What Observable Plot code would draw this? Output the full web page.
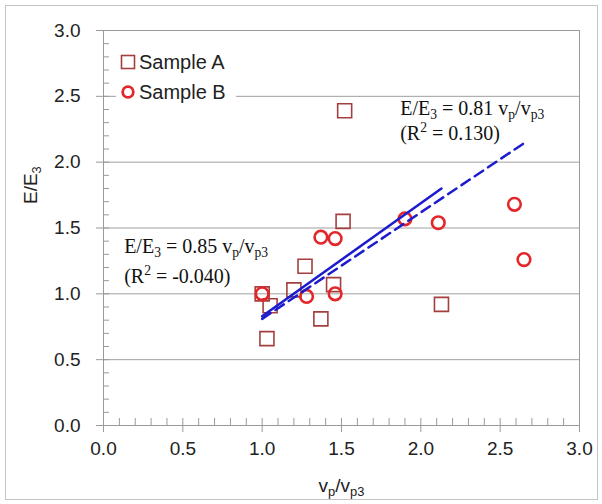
<!DOCTYPE html>
<html>
<head>
<meta charset="utf-8">
<script src="https://cdn.jsdelivr.net/npm/d3@7"></script>
<script src="https://cdn.jsdelivr.net/npm/@observablehq/plot@0.6"></script>
<style>
  html, body { margin: 0; padding: 0; background: #fff; }
  #wrap { position: relative; width: 602px; height: 504px; }
  #border { position: absolute; left: 5px; top: 5px; width: 591px; height: 493px; border: 1px solid #c4c4c4; pointer-events: none; }
  #legend { position: absolute; left: 116px; top: 47px; width: 120px; height: 58px; background: #fff;
            font-family: "Liberation Sans", Arial, sans-serif; font-size: 20px; color: #222; }
  .item { position: absolute; left: 4px; height: 22px; display: flex; align-items: center; }
  .item svg { margin-right: 3px; }
</style>
</head>
<body>
<div id="wrap">
  <div id="chart"></div>
  <div id="legend"></div>
  <div id="border"></div>
</div>
<script>
// ---- data ----
const seriesNames = ["Sample A", "Sample B"];

const sampleA_x = [1.00, 1.05, 1.20, 1.27, 1.45, 1.37, 1.03, 1.51, 1.52, 2.13];
const sampleA_y = [1.00, 0.91, 1.03, 1.21, 1.07, 0.81, 0.66, 1.55, 2.39, 0.92];

const sampleB_x = [1.00, 1.28, 1.46, 1.37, 1.46, 1.90, 2.11, 2.59, 2.65];
const sampleB_y = [1.00, 0.98, 1.00, 1.43, 1.42, 1.57, 1.54, 1.68, 1.26];

// fitted lines (endpoints)
const fitA_x = [1.00, 2.13];
const fitA_y = [0.83, 1.80];
const fitB_x = [1.00, 2.67];
const fitB_y = [0.81, 2.16];

// annotations (data coordinates of text baselines)
const annotText = ["E/E_{3} = 0.85 v_{p}/v_{p3}", "(R^{2} = -0.040)", "E/E_{3} = 0.81 v_{p}/v_{p3}", "(R^{2} = 0.130)"];
const annotX = [0.13, 0.13, 1.87, 1.87];
const annotY = [1.31, 1.08, 2.36, 2.17];

const majorTicks = [0, 0.5, 1.0, 1.5, 2.0, 2.5, 3.0];
const minorTicks = d3.range(0, 31).map(i => i / 10);

const xLabel = "v_{p}/v_{p3}";
const yLabel = "E/E_{3}";

// ---- styles ----
const colA = "#a3403f";
const colB = "#e3262a";
const lineCol = "#1c1ccf";
const axisCol = "#9a9a9a";
const serif = "'Liberation Serif', 'Times New Roman', serif";

const plot = Plot.plot({
  width: 602,
  height: 504,
  marginLeft: 103,
  marginRight: 23,
  marginTop: 30,
  marginBottom: 79,
  x: { domain: [0, 3], label: null },
  y: { domain: [0, 3], label: null },
  style: { fontFamily: "'Liberation Sans', Arial, sans-serif", fontSize: "19px", color: "#222", background: "#fff" },
  marks: [
    Plot.gridY(majorTicks, { stroke: "#a0a0a0", strokeOpacity: 1 }),
    Plot.frame({ stroke: axisCol }),
    Plot.axisX(minorTicks, { tickSize: -7, tickFormat: () => "", stroke: axisCol, label: null }),
    Plot.axisX(majorTicks, { tickSize: 7, tickPadding: 9, tickFormat: d3.format(".1f"), stroke: axisCol, label: null }),
    Plot.axisY(minorTicks, { tickSize: -6, tickFormat: () => "", stroke: axisCol, label: null }),
    Plot.axisY(majorTicks, { tickSize: 7, tickPadding: 16, tickFormat: d3.format(".1f"), stroke: axisCol, label: null }),
    Plot.dot(sampleA_x, { x: sampleA_x, y: sampleA_y, symbol: "square", r: 7.9, stroke: colA, strokeWidth: 1.6, fill: "none" }),
    Plot.dot(sampleB_x, { x: sampleB_x, y: sampleB_y, symbol: "circle", r: 6.3, stroke: colB, strokeWidth: 2.6, fill: "none" }),
    Plot.line(fitA_x, { x: fitA_x, y: fitA_y, stroke: lineCol, strokeWidth: 2.5 }),
    Plot.line(fitB_x, { x: fitB_x, y: fitB_y, stroke: lineCol, strokeWidth: 2.5, strokeDasharray: "10,6" }),
    Plot.text(annotText, { x: annotX, y: annotY, text: annotText, textAnchor: "start", lineAnchor: "bottom",
                           fontFamily: serif, fontSize: 20, fill: "#111" }),
    Plot.text([xLabel], { text: d => d, frameAnchor: "bottom", dy: 60, lineAnchor: "middle", fontSize: 19, fill: "#222" }),
    Plot.text([yLabel], { text: d => d, frameAnchor: "left", dx: -73, dy: -24, rotate: -90, lineAnchor: "middle", fontSize: 19, fill: "#222" })
  ]
});

document.getElementById("chart").appendChild(plot);

// ---- turn _{..} / ^{..} into sub/superscript tspans ----
function richify(el) {
  const s = el.textContent;
  if (!/[_^]\{/.test(s)) return;
  const fs = parseFloat(getComputedStyle(el).fontSize) || 19;
  const parts = s.split(/([_^]\{[^}]*\})/).filter(p => p.length);
  while (el.firstChild) el.removeChild(el.firstChild);
  let shift = 0;
  for (const p of parts) {
    const t = document.createElementNS("http://www.w3.org/2000/svg", "tspan");
    let target = 0, content = p, small = false;
    if (p.startsWith("_{")) { target = fs * 0.22; content = p.slice(2, -1); small = true; }
    else if (p.startsWith("^{")) { target = -fs * 0.4; content = p.slice(2, -1); small = true; }
    t.setAttribute("dy", (target - shift).toFixed(2));
    shift = target;
    if (small) t.setAttribute("font-size", (fs * 0.68).toFixed(2));
    t.textContent = content;
    el.appendChild(t);
  }
}
plot.querySelectorAll("text").forEach(richify);

// ---- legend ----
const legend = document.getElementById("legend");
seriesNames.forEach((name, i) => {
  const div = document.createElement("div");
  div.className = "item";
  div.style.top = (i === 0 ? 4 : 34) + "px";
  const icon = i === 0
    ? `<svg width="16" height="16"><rect x="1.5" y="1.5" width="13" height="13" fill="none" stroke="${colA}" stroke-width="1.6"/></svg>`
    : `<svg width="16" height="16"><circle cx="8" cy="8" r="5.3" fill="none" stroke="${colB}" stroke-width="2.8"/></svg>`;
  div.innerHTML = icon + `<span>${name}</span>`;
  legend.appendChild(div);
});
</script>
</body>
</html>
